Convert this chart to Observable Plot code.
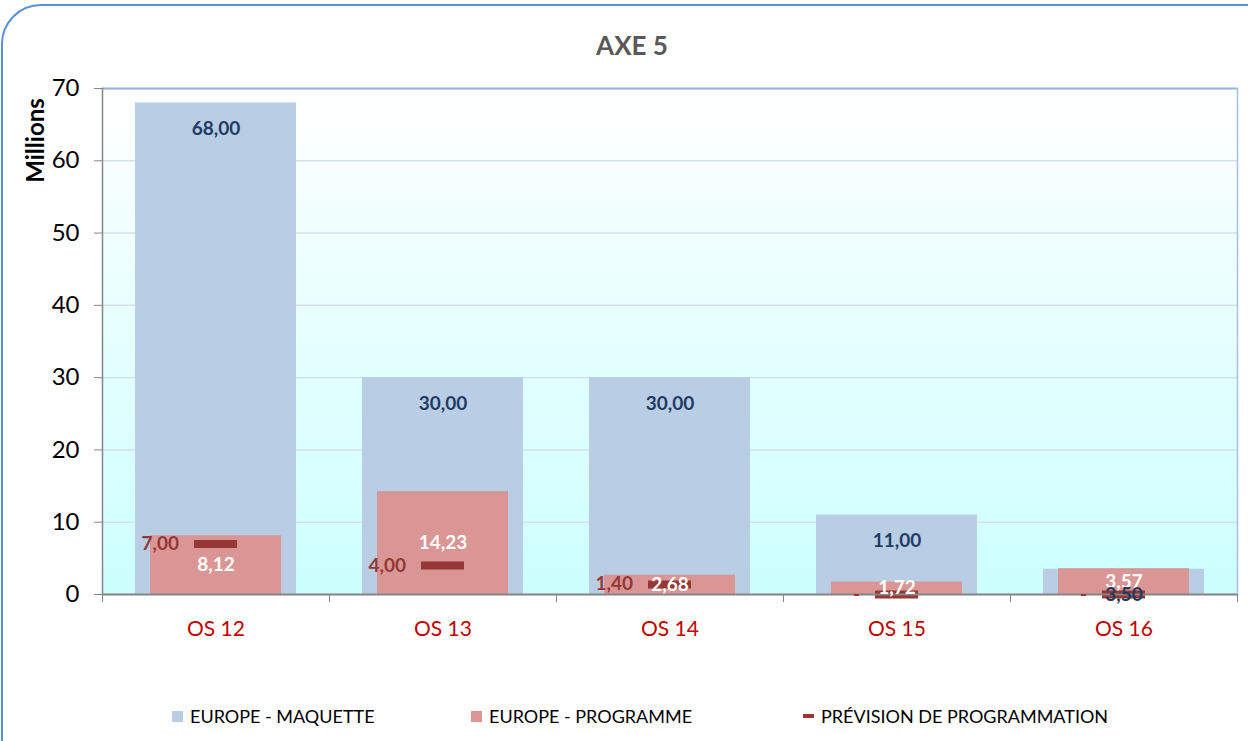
<!DOCTYPE html>
<html><head><meta charset="utf-8">
<script src="https://cdn.jsdelivr.net/npm/d3@7"></script>
<script src="https://cdn.jsdelivr.net/npm/@observablehq/plot@0.6"></script>
<style>
body{margin:0;width:1248px;height:741px;overflow:hidden;background:#fff;font-family:Lato,sans-serif;position:relative}
#border{position:absolute;left:1px;top:4px;width:1300px;height:800px;border:2px solid #5b8fd6;border-radius:40px;box-sizing:border-box}
#title{position:absolute;left:0;width:1264px;top:28px;line-height:34px;text-align:center;font-weight:bold;font-size:26px;color:#595959}
#chart{position:absolute;left:0;top:0}
.leg{position:absolute;top:704px;line-height:24px;font-size:18px;color:#000;display:flex;align-items:center;white-space:nowrap}
.sw{display:inline-block;width:11px;height:11px;margin-right:7px}
</style></head><body>
<div id="border"></div>
<div id="chart"></div>
<div id="title">AXE 5</div>
<div class="leg" style="left:172px"><span class="sw" style="background:#b9cde5"></span>EUROPE - MAQUETTE</div>
<div class="leg" style="left:471px"><span class="sw" style="background:#d99694"></span>EUROPE - PROGRAMME</div>
<div class="leg" style="left:803px"><span class="sw" style="background:#953735;height:4px"></span>PRÉVISION DE PROGRAMMATION</div>
<script>
const categories = ["OS 12", "OS 13", "OS 14", "OS 15", "OS 16"];
const maquette = [68.00, 30.00, 30.00, 11.00, 3.50];
const programme = [8.12, 14.23, 2.68, 1.72, 3.57];
const prevision = [7.00, 4.00, 1.40, 0, 0];
const yTicks = [0, 10, 20, 30, 40, 50, 60, 70];

const data = categories.map((c, i) => ({cat: c, maquette: maquette[i], programme: programme[i], prevision: prevision[i]}));
const W = 1248, H = 680, ML = 102, MR = 11, MT = 88, MB = 86;
const step = (W - ML - MR) / categories.length;
const fmt = v => v === 0 ? "-" : d3.format(".2f")(v).replace(".", ",");

const chart = Plot.plot({
  width: W, height: H, marginLeft: ML, marginRight: MR, marginTop: MT, marginBottom: MB,
  style: {fontFamily: "Lato, sans-serif", background: "transparent", overflow: "visible"},
  x: {domain: categories, paddingInner: 0.29, paddingOuter: 0.145},
  y: {domain: [0, 70]},
  marks: [
    Plot.frame({fill: "url(#bgGrad)", stroke: null}),
    Plot.gridY(yTicks, {stroke: "#d5dfee", strokeOpacity: 1, strokeWidth: 1.5}),
    Plot.ruleY([70], {stroke: "#8eb4e3", strokeWidth: 2}),
    Plot.frame({anchor: "right", stroke: "#a7c0e5", strokeWidth: 1.5}),
    Plot.barY(data, {x: "cat", y: "maquette", fill: "#b9cde5"}),
    Plot.barY(data, {x: "cat", y: "programme", fill: "#d99694", insetLeft: 15, insetRight: 15}),
    Plot.tickY(data, {x: "cat", y: "prevision", stroke: "#953735", strokeWidth: 8, insetLeft: 59, insetRight: 59}),
    Plot.frame({anchor: "left", stroke: "#868686", strokeWidth: 1.5}),
    Plot.ruleY([0], {stroke: "#868686", strokeWidth: 2}),
    Plot.axisY(yTicks, {tickSize: 8, tickPadding: 15, fontSize: 24, stroke: "#868686", fill: "#000", label: null}),
    Plot.axisX(categories, {tickSize: 8, tickFormat: () => "", dx: -step / 2, stroke: "#868686", label: null}),
    Plot.axisX(["OS 16"], {tickSize: 8, tickFormat: () => "", dx: step / 2, stroke: "#868686", label: null}),
    Plot.axisX(categories, {tickSize: 0, tickPadding: 27, fontSize: 21, fill: "#c00000", label: null}),
    Plot.text(data, {x: "cat", y: "prevision", text: d => fmt(d.prevision), dx: -37, textAnchor: "end", fill: "#953735", fontSize: 19, fontWeight: "bold"}),
    Plot.text(data, {x: "cat", y: d => d.programme / 2, text: d => fmt(d.programme), fill: "#fff", fontSize: 19, fontWeight: "bold"}),
    Plot.text(data, {x: "cat", y: "maquette", text: d => fmt(d.maquette), dy: 26, fill: "#1f3b63", fontSize: 19, fontWeight: "bold"}),
    Plot.text(["Millions"], {frameAnchor: "top-left", rotate: -90, dx: -76, dy: 52, fontSize: 24, fontWeight: "bold", textAnchor: "middle", fill: "#000"})
  ]
});
d3.select(chart).insert("defs", ":first-child").html(
  '<linearGradient id="bgGrad" x1="0" y1="0" x2="0" y2="1"><stop offset="0" stop-color="#ffffff"/><stop offset="1" stop-color="#ccffff"/></linearGradient>'
);
document.getElementById("chart").appendChild(chart);
</script>
</body></html>
